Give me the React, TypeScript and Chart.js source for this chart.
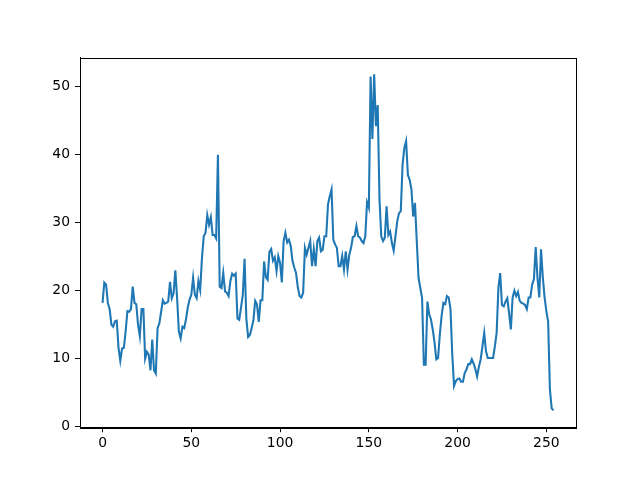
import React, { useEffect, useRef } from "react";
import { Chart, registerables } from "chart.js";

Chart.register(...registerables);

const values: number[] = [
  18.2, 21.2, 20.9, 18.2, 17.3, 15.0, 14.7, 15.5, 15.6, 11.6,
  9.7, 11.5, 11.6, 14.0, 17.0, 16.9, 17.3, 20.6, 18.2, 18.0,
  15.0, 13.3, 17.3, 17.3, 10.0, 11.0, 10.6, 8.3, 12.8, 8.3,
  7.8, 14.5, 15.2, 16.9, 18.6, 18.1, 18.2, 18.4, 21.3, 18.9,
  19.6, 23.0, 18.9, 14.0, 13.0, 14.7, 14.5, 15.8, 17.5, 18.7,
  19.4, 21.9, 19.4, 18.9, 21.4, 20.1, 24.8, 28.0, 28.5, 31.1,
  29.7, 30.8, 28.2, 28.2, 27.7, 40.0, 20.6, 20.4, 22.6, 19.9,
  19.7, 19.2, 21.4, 22.5, 22.2, 22.5, 15.9, 15.7, 17.5, 19.4,
  24.7, 15.9, 13.2, 13.5, 14.5, 15.7, 18.5, 18.0, 15.4, 18.6,
  18.6, 24.3, 22.0, 21.6, 25.7, 26.1, 24.4, 24.9, 22.9, 25.1,
  24.1, 21.2, 27.3, 28.5, 27.1, 27.5, 26.6, 24.4, 23.4, 22.6,
  20.5, 19.2, 19.0, 19.7, 26.3, 25.3, 26.3, 27.3, 23.6, 26.1,
  23.6, 27.3, 27.8, 25.8, 26.0, 28.0, 28.0, 32.7, 33.9, 34.9,
  27.5, 26.8, 26.3, 23.6, 23.6, 25.1, 23.1, 25.8, 23.1, 25.3,
  26.3, 27.9, 28.0, 29.5, 28.0, 27.8, 27.3, 27.0, 28.0, 33.0,
  32.2, 51.5, 42.3, 51.8, 44.2, 47.3, 33.5, 28.0, 27.3, 27.8,
  32.4, 28.2, 28.7, 27.0, 25.9, 28.0, 30.2, 31.4, 31.7, 38.5,
  41.0, 42.0, 37.0, 36.3, 34.9, 30.9, 32.9, 27.3, 21.9, 20.4,
  18.9, 9.1, 9.1, 18.4, 16.5, 15.8, 14.3, 12.4, 9.9, 10.1,
  13.6, 16.3, 18.2, 18.0, 19.2, 19.0, 17.3, 10.6, 6.0, 6.7,
  7.0, 7.1, 6.6, 6.6, 7.9, 8.4, 9.2, 9.2, 9.9, 9.3,
  8.5, 7.4, 8.8, 9.9, 11.8, 13.8, 11.1, 10.1, 10.1, 10.1,
  10.1, 11.8, 13.8, 20.5, 22.6, 17.9, 17.7, 18.4, 18.9, 16.7,
  14.3, 19.0, 20.0, 19.2, 19.8, 18.5, 18.2, 18.1, 17.9, 17.3,
  19.0, 19.0, 20.9, 21.7, 26.4, 21.9, 19.0, 26.1, 22.0, 19.0,
  17.0, 15.5, 5.5, 2.7, 2.4,
];

const xTicks: number[] = [0, 50, 100, 150, 200, 250];
const yTicks: number[] = [0, 10, 20, 30, 40, 50];

const framePlugin = {
  id: "frame",
  afterDraw(chart: any) {
    const { ctx, chartArea } = chart;
    ctx.save();
    ctx.strokeStyle = "#000000";
    ctx.lineWidth = 1;
    ctx.strokeRect(
      Math.round(chartArea.left) + 0.5,
      Math.round(chartArea.top) + 0.5,
      Math.round(chartArea.right - chartArea.left),
      Math.round(chartArea.bottom - chartArea.top)
    );
    ctx.restore();
  },
};

export default function App() {
  const canvasRef = useRef<HTMLCanvasElement | null>(null);

  useEffect(() => {
    const canvas = canvasRef.current;
    if (!canvas) return;
    const n = values.length - 1;
    const xMargin = n * 0.05;
    const yMin = Math.min(...values);
    const yMax = Math.max(...values);
    const yMargin = (yMax - yMin) * 0.05;
    const font = { family: "'DejaVu Sans', sans-serif", size: 13.9 };

    const chart = new Chart(canvas, {
      type: "line",
      data: {
        datasets: [
          {
            data: values.map((v, i) => ({ x: i, y: v })),
            borderColor: "#1f77b4",
            borderWidth: 2.08,
            pointRadius: 0,
            tension: 0,
            fill: false,
          },
        ],
      },
      options: {
        animation: false,
        responsive: false,
        devicePixelRatio: 1,
        layout: { padding: { top: 57.6, right: 64, left: 0, bottom: 0 } },
        plugins: { legend: { display: false }, tooltip: { enabled: false } },
        scales: {
          x: {
            type: "linear",
            min: -xMargin,
            max: n + xMargin,
            afterBuildTicks: (scale: any) => {
              scale.ticks = xTicks.map((v) => ({ value: v }));
            },
            afterFit: (scale: any) => {
              scale.height = 52.8;
            },
            ticks: {
              color: "#000000",
              font,
              padding: 3,
              maxRotation: 0,
              autoSkip: false,
            },
            grid: {
              drawOnChartArea: false,
              drawTicks: true,
              tickLength: 5,
              tickColor: "#000000",
              tickWidth: 1,
            },
            border: { display: true, color: "#000000", width: 1 },
          },
          y: {
            type: "linear",
            min: yMin - yMargin,
            max: yMax + yMargin,
            afterBuildTicks: (scale: any) => {
              scale.ticks = yTicks.map((v) => ({ value: v }));
            },
            afterFit: (scale: any) => {
              scale.width = 80;
            },
            ticks: {
              color: "#000000",
              font,
              padding: 5,
              autoSkip: false,
            },
            grid: {
              drawOnChartArea: false,
              drawTicks: true,
              tickLength: 5,
              tickColor: "#000000",
              tickWidth: 1,
            },
            border: { display: true, color: "#000000", width: 1 },
          },
        },
      },
      plugins: [framePlugin],
    });

    return () => {
      chart.destroy();
    };
  }, []);

  return (
    <div
      style={{
        position: "fixed",
        left: 0,
        top: 0,
        width: 640,
        height: 480,
        background: "#ffffff",
      }}
    >
      <canvas ref={canvasRef} width={640} height={480} style={{ display: "block" }} />
    </div>
  );
}
